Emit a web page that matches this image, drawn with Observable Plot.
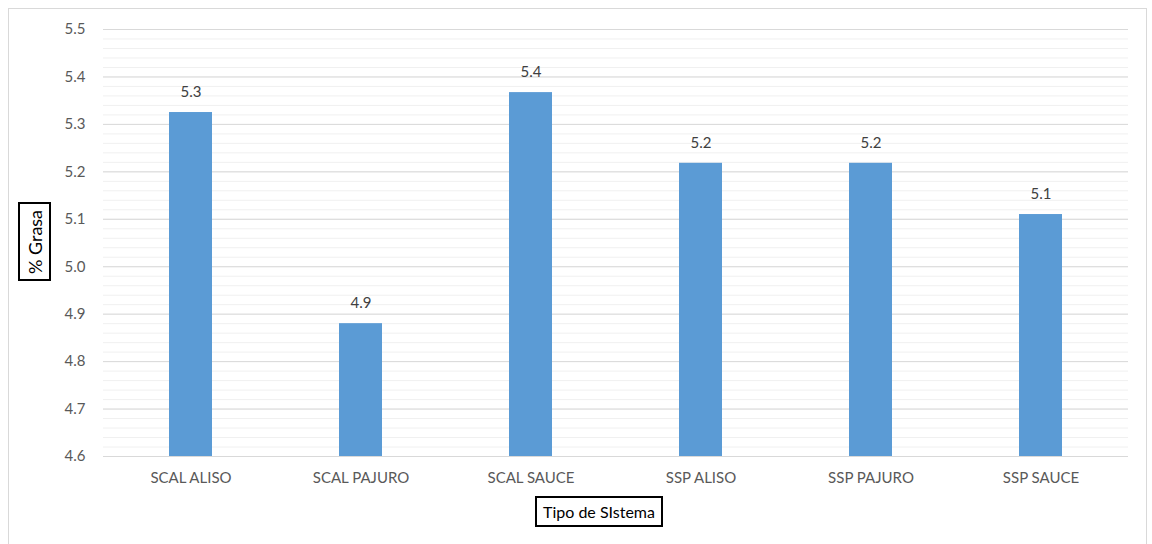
<!DOCTYPE html>
<html>
<head>
<meta charset="utf-8">
<script src="https://cdn.jsdelivr.net/npm/d3@7"></script>
<script src="https://cdn.jsdelivr.net/npm/@observablehq/plot@0.6"></script>
<style>
  html, body { margin: 0; padding: 0; background: #fff; }
  #wrap { position: relative; width: 1152px; height: 544px; overflow: hidden; font-family: Lato, "Open Sans", sans-serif; }
  #frame { position: absolute; left: 8px; top: 8px; width: 1139px; height: 540px; border: 1px solid #d9d9d9; box-sizing: border-box; }
  #chart { position: absolute; left: 0; top: 0; }
  .box { position: absolute; border: 2px solid #000; background: #fff; color: #000; font-size: 16px; box-sizing: border-box; white-space: nowrap; text-align: center; }
  #ytitle { left: 18px; top: 202px; width: 33px; height: 79px; font-size: 18px; }
  #ytitle span { position: absolute; left: 50%; top: 50%; transform: translate(-50%, -50%) rotate(-90deg); }
  #xtitle { left: 535px; top: 496px; width: 128px; height: 31px; line-height: 27px; }
</style>
</head>
<body>
<div id="wrap">
  <div id="frame"></div>
  <div id="chart"></div>
  <div class="box" id="ytitle"><span>% Grasa</span></div>
  <div class="box" id="xtitle">Tipo de SIstema</div>
</div>
<script>
const categories = ["SCAL ALISO", "SCAL PAJURO", "SCAL SAUCE", "SSP ALISO", "SSP PAJURO", "SSP SAUCE"];
const values = [5.325, 4.88, 5.367, 5.218, 5.218, 5.11];
const labels = ["5.3", "4.9", "5.4", "5.2", "5.2", "5.1"];
const yTicks = [4.6, 4.7, 4.8, 4.9, 5.0, 5.1, 5.2, 5.3, 5.4, 5.5];
const yMinor = d3.range(0, 46).map(i => 4.6 + i * 0.02);

const data = categories.map((c, i) => ({ cat: c, value: values[i], label: labels[i] }));

const chart = Plot.plot({
  width: 1152,
  height: 544,
  marginLeft: 103,
  marginRight: 24,
  marginTop: 29,
  marginBottom: 88,
  style: { fontFamily: "Lato, 'Open Sans', sans-serif", fontSize: "15px", background: "transparent" },
  x: { domain: categories, paddingInner: 0.75, paddingOuter: 0.375, label: null },
  y: { domain: [4.6, 5.5], label: null },
  marks: [
    Plot.ruleY(yMinor, { stroke: "#f0f0f0", strokeWidth: 1 }),
    Plot.ruleY(yTicks, { stroke: "#d9d9d9", strokeWidth: 1 }),
    Plot.barY(data, { x: "cat", y1: 4.6, y2: "value", fill: "#5b9bd5" }),
    Plot.text(data, { x: "cat", y: "value", text: "label", dy: -20, fill: "#404040", fontSize: 15 }),
    Plot.axisY({ ticks: yTicks, tickSize: 0, tickPadding: 18, tickFormat: d => d.toFixed(1), color: "#595959", fontSize: 15 }),
    Plot.axisX({ tickSize: 0, tickPadding: 16, color: "#595959", fontSize: 15 })
  ]
});
document.getElementById("chart").appendChild(chart);
</script>
</body>
</html>
